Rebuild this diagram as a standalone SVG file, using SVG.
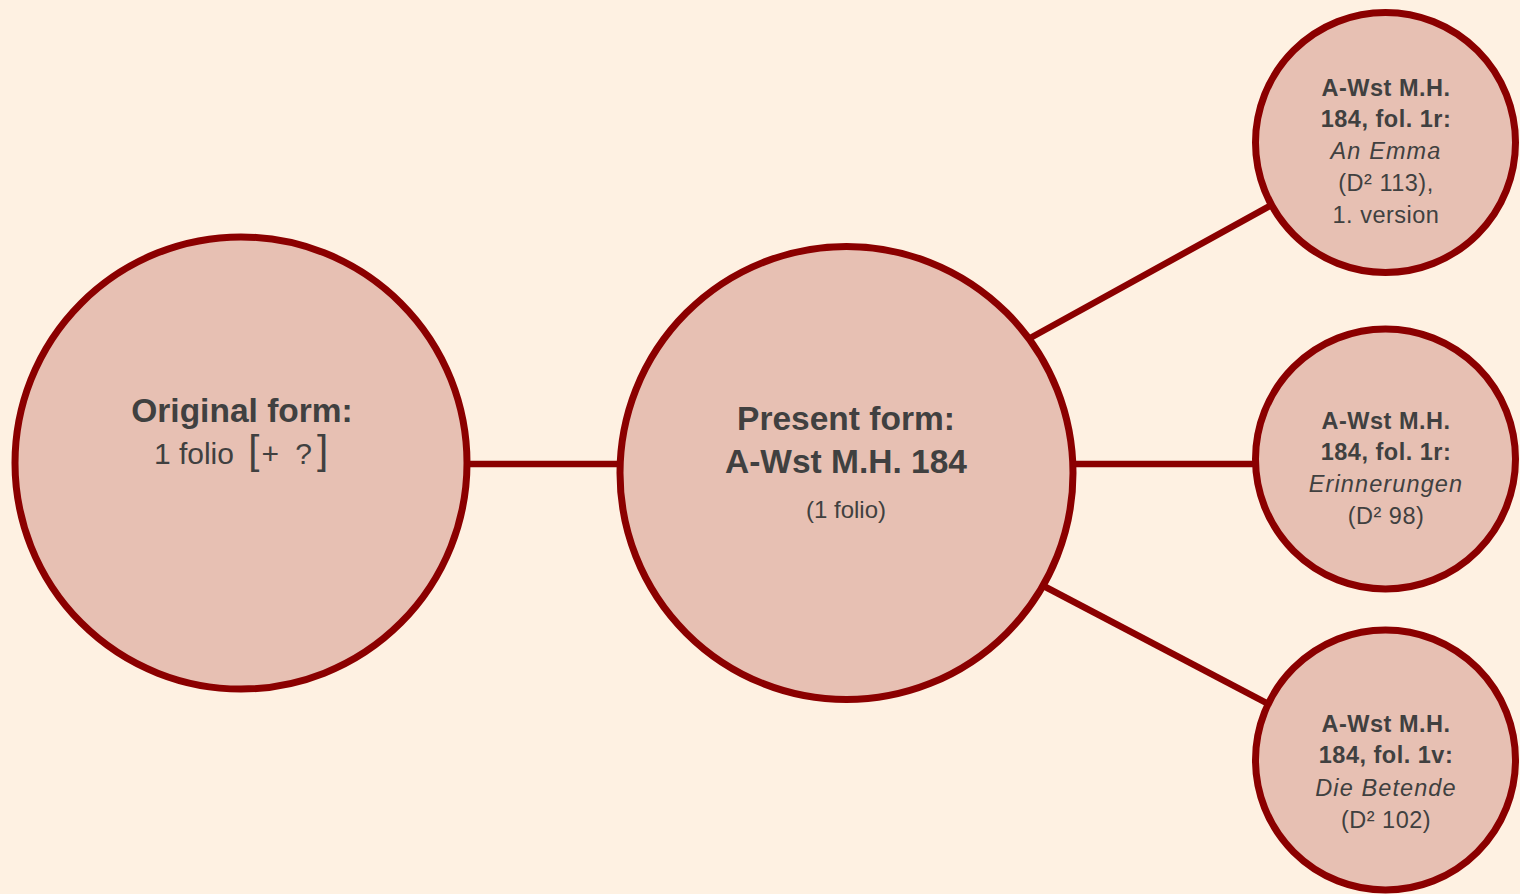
<svg xmlns="http://www.w3.org/2000/svg" width="1520" height="894" viewBox="0 0 1520 894">
<style>
.node{fill:#e7c0b3;stroke:#8b0000;stroke-width:7}
.edge{stroke:#8b0000;stroke-width:6.5;fill:none}
text{font-family:"Liberation Sans",Arial,sans-serif;fill:#404040;text-anchor:middle}
.b{font-weight:bold}
.big{font-size:33.5px}
.sm{font-size:24px}
.mid{font-size:30px}
.br{font-size:40px;font-weight:300}
.s{font-size:23.5px;letter-spacing:0.5px}
.i{font-style:italic;letter-spacing:1.1px}
</style>
<rect x="0" y="0" width="1520" height="894" fill="#fef1e2"/>
<g id="connectors">
<line class="edge" x1="460" y1="464" x2="630" y2="464"/>
<line class="edge" x1="1060" y1="464" x2="1262" y2="464"/>
<line class="edge" x1="1023" y1="342" x2="1277" y2="202"/>
<line class="edge" x1="1036" y1="582" x2="1276" y2="708"/>
</g>
<g id="original">
<circle class="node" cx="241" cy="463" r="226"/>
<text class="b big" x="242" y="422">Original form:</text>
<text class="mid" x="241" y="464">1 folio <tspan class="br" dx="6">[</tspan><tspan dx="2">+ </tspan><tspan dx="8">?</tspan><tspan class="br" dx="5">]</tspan></text>
</g>
<g id="present">
<circle class="node" cx="846.5" cy="473" r="226.5"/>
<text class="b big" x="846" y="430">Present form:</text>
<text class="b big" x="846" y="473">A-Wst M.H. 184</text>
<text class="sm" x="846" y="518">(1 folio)</text>
</g>
<g id="fol1r-emma">
<circle class="node" cx="1385.5" cy="142.5" r="130"/>
<text class="b s" x="1386" y="96">A-Wst M.H.</text>
<text class="b s" x="1386" y="127">184, fol. 1r:</text>
<text class="s i" x="1386" y="159">An Emma</text>
<text class="s" x="1386" y="191">(D² 113),</text>
<text class="s" x="1386" y="223">1. version</text>
</g>
<g id="fol1r-erinnerungen">
<circle class="node" cx="1385.5" cy="459" r="130"/>
<text class="b s" x="1386" y="429">A-Wst M.H.</text>
<text class="b s" x="1386" y="460">184, fol. 1r:</text>
<text class="s i" x="1386" y="492">Erinnerungen</text>
<text class="s" x="1386" y="524">(D² 98)</text>
</g>
<g id="fol1v-betende">
<circle class="node" cx="1385.5" cy="760" r="130"/>
<text class="b s" x="1386" y="732">A-Wst M.H.</text>
<text class="b s" x="1386" y="763">184, fol. 1v:</text>
<text class="s i" x="1386" y="796">Die Betende</text>
<text class="s" x="1386" y="828">(D² 102)</text>
</g>
</svg>
